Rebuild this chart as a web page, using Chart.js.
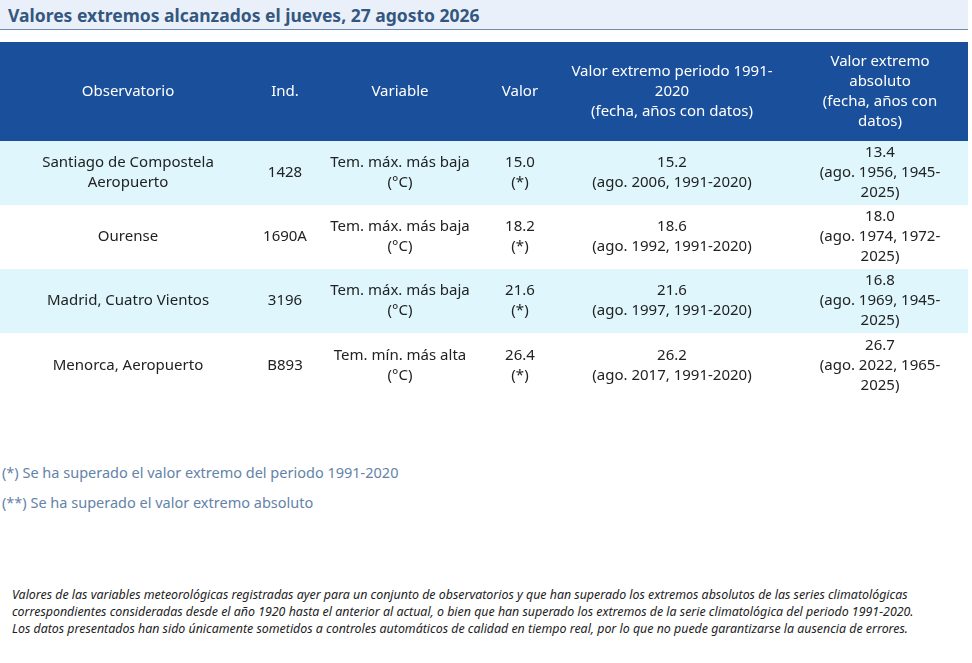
<!DOCTYPE html>
<html><head><meta charset="utf-8">
<script src="https://cdn.jsdelivr.net/npm/chart.js@4"></script>
<style>
body{margin:0;background:#fff;font-family:"Noto Sans",sans-serif;width:972px;height:663px;overflow:hidden;position:relative}
#title{position:absolute;left:0;top:0;width:968px;height:30px;background:#eaf0fa;border-bottom:1px solid #6d8bb0;color:#34577f;font-weight:bold;font-size:17.5px;line-height:30px;padding-left:8px;box-sizing:border-box}
#wrap{position:absolute;left:0;top:42px;width:968px;height:356px}
.note{position:absolute;left:2px;color:#6483a8;font-size:14.5px}
#foot{position:absolute;left:12px;top:586px;width:948px;font-size:12.4px;font-style:italic;color:#222;line-height:17px}
</style></head><body>
<div id="title">Valores extremos alcanzados el jueves, 27 agosto 2026</div>
<div id="wrap"><canvas id="c" width="968" height="356"></canvas></div>
<div class="note" style="top:462px">(*) Se ha superado el valor extremo del periodo 1991-2020</div>
<div class="note" style="top:492px">(**) Se ha superado el valor extremo absoluto</div>
<div id="foot">Valores de las variables meteorológicas registradas ayer para un conjunto de observatorios y que han superado los extremos absolutos de las series climatológicas correspondientes consideradas desde el año 1920 hasta el anterior al actual, o bien que han superado los extremos de la serie climatológica del periodo 1991-2020.<br>Los datos presentados han sido únicamente sometidos a controles automáticos de calidad en tiempo real, por lo que no puede garantizarse la ausencia de errores.</div>
<script>
const headers = [["Observatorio"], ["Ind."], ["Variable"], ["Valor"],
  ["Valor extremo periodo 1991-", "2020", "(fecha, años con datos)"],
  ["Valor extremo", "absoluto", "(fecha, años con", "datos)"]];
const observatorio = [["Santiago de Compostela", "Aeropuerto"], ["Ourense"], ["Madrid, Cuatro Vientos"], ["Menorca, Aeropuerto"]];
const indicativo = ["1428", "1690A", "3196", "B893"];
const variable = ["Tem. máx. más baja", "Tem. máx. más baja", "Tem. máx. más baja", "Tem. mín. más alta"];
const valor = ["15.0", "18.2", "21.6", "26.4"];
const extremoPeriodo = ["15.2", "18.6", "21.6", "26.2"];
const fechaPeriodo = ["(ago. 2006, 1991-2020)", "(ago. 1992, 1991-2020)", "(ago. 1997, 1991-2020)", "(ago. 2017, 1991-2020)"];
const extremoAbs = [["13.4", "(ago. 1956, 1945-", "2025)"], ["18.0", "(ago. 1974, 1972-", "2025)"], ["16.8", "(ago. 1969, 1945-", "2025)"], ["26.7", "(ago. 2022, 1965-", "2025)"]];
// column centres and row edges in table units
const colCenters = [128, 285, 400, 520, 672, 880];
const rowEdges = [0, 99, 163, 227, 291, 356];

const rows = observatorio.map((o, i) => [o, [indicativo[i]], [variable[i], "(°C)"], [valor[i], "(*)"], [extremoPeriodo[i], fechaPeriodo[i]], extremoAbs[i]]);

const tablePlugin = {
  id: "table",
  afterDraw(chart) {
    const ctx = chart.ctx, x = chart.scales.x, y = chart.scales.y;
    const X = v => x.getPixelForValue(v), Y = v => y.getPixelForValue(v);
    const all = [headers, ...rows];
    ctx.save();
    all.forEach((cells, r) => {
      const top = Y(rowEdges[r]), bot = Y(rowEdges[r + 1]);
      ctx.fillStyle = r === 0 ? "#1a4f9c" : (r % 2 ? "#dff6fd" : "#ffffff");
      ctx.fillRect(X(0), top, X(968) - X(0), bot - top);
      ctx.fillStyle = r === 0 ? "#ffffff" : "#222222";
      ctx.font = "15px 'Noto Sans', sans-serif";
      ctx.textAlign = "center"; ctx.textBaseline = "middle";
      cells.forEach((lines, c) => {
        const cx = X(colCenters[c]);
        const cy = (top + bot) / 2, lh = 20;
        lines.forEach((t, k) => ctx.fillText(t, cx, cy + (k - (lines.length - 1) / 2) * lh));
      });
    });
    ctx.restore();
  }
};

new Chart(document.getElementById("c"), {
  type: "scatter",
  data: { datasets: [{ data: [] }] },
  options: {
    responsive: false, animation: false,
    layout: { padding: 0 },
    plugins: { legend: { display: false }, tooltip: { enabled: false } },
    scales: {
      x: { type: "linear", min: 0, max: 968, display: false },
      y: { type: "linear", min: 0, max: 356, reverse: true, display: false }
    }
  },
  plugins: [tablePlugin]
});
</script>
</body></html>
